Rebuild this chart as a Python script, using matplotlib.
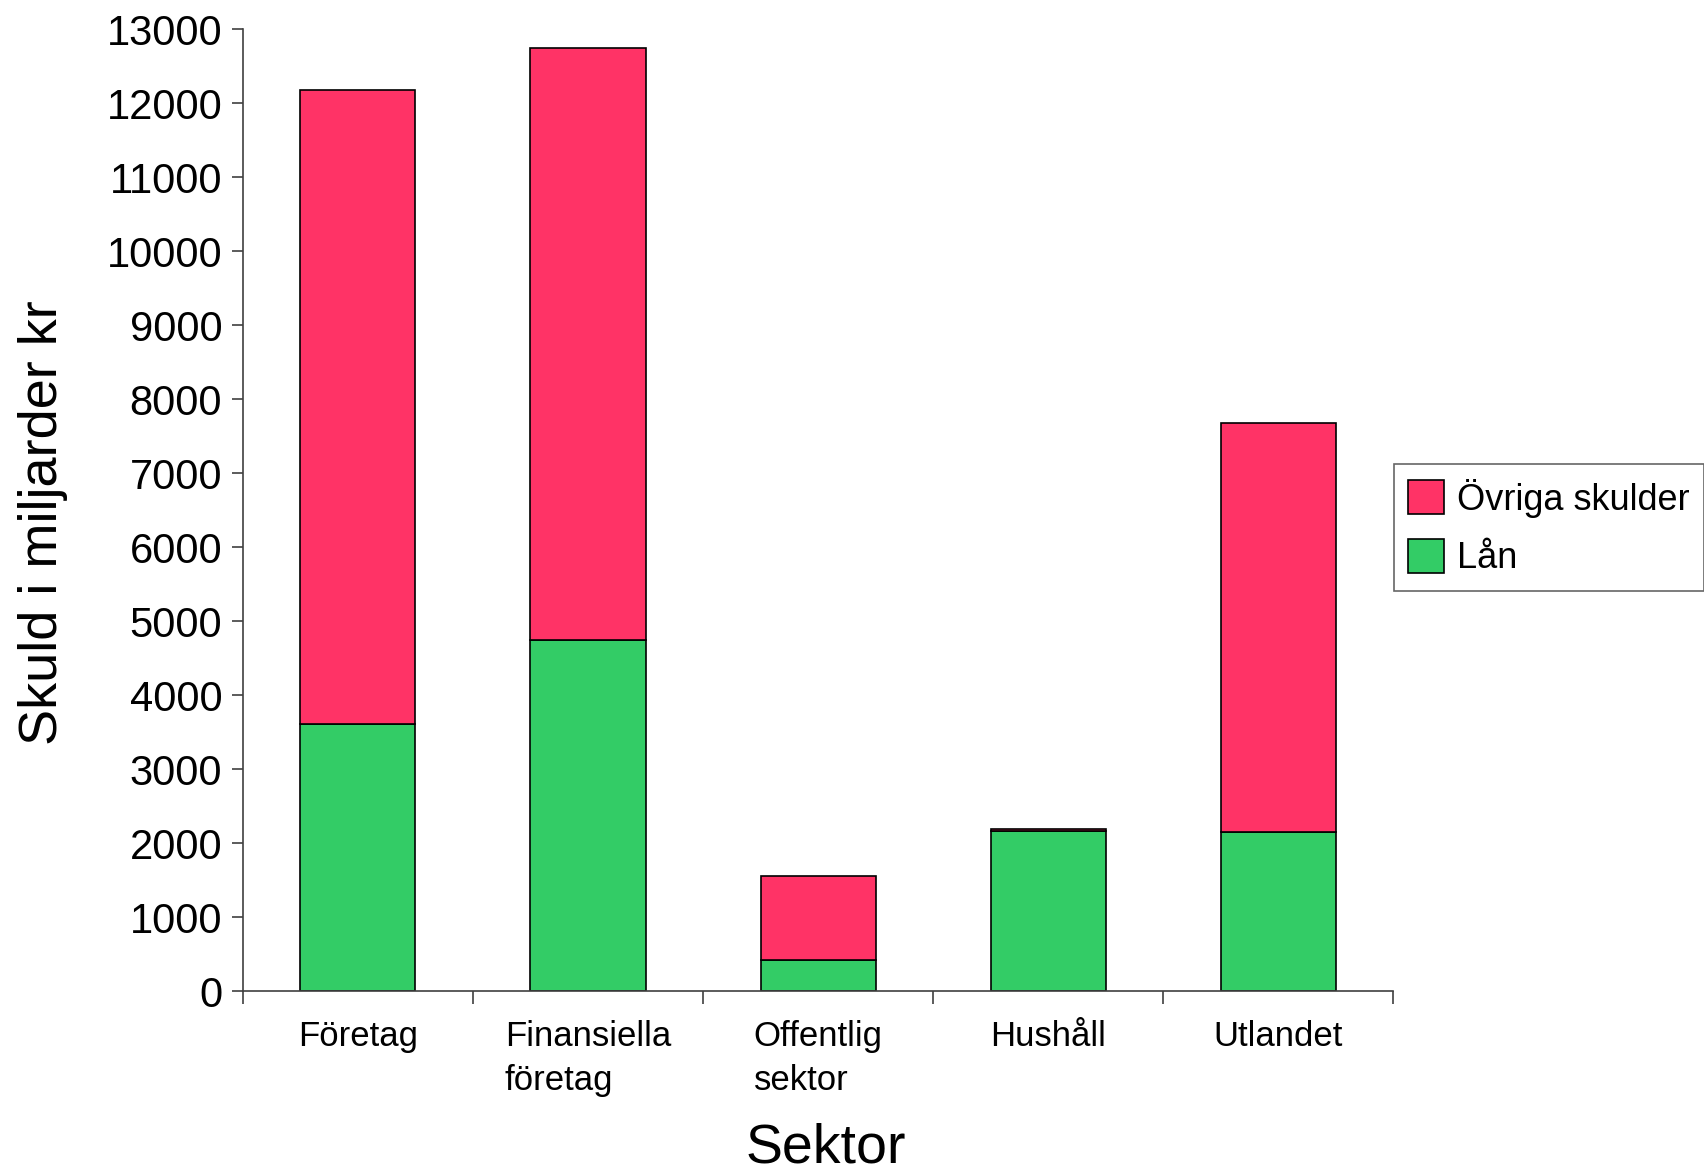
import matplotlib.pyplot as plt
from matplotlib.ticker import FixedLocator

plt.rcParams["font.family"] = ["Liberation Sans", "DejaVu Sans"]

sectors = ["Företag", "Finansiella\nföretag", "Offentlig\nsektor", "Hushåll", "Utlandet"]
lan = [3610, 4745, 425, 2160, 2145]
ovriga = [8565, 8005, 1130, 30, 5535]
yticks = list(range(0, 13001, 1000))

red = "#ff3366"
green = "#33cc66"

fig = plt.figure(figsize=(17.04, 11.72), dpi=100)
ax = fig.add_axes([0.1426, 0.1544, 0.8175 - 0.1426, 0.975 - 0.1544])

x = range(len(sectors))
ax.bar(x, lan, width=0.5, color=green, edgecolor="black", linewidth=1.2, label="Lån")
ax.bar(x, ovriga, width=0.5, bottom=lan, color=red, edgecolor="black",
       linewidth=1.2, label="Övriga skulder")

ax.set_xlim(-0.5, len(sectors) - 0.5)
ax.set_ylim(0, 13000)
ax.set_yticks(yticks)
ax.set_xticks(list(x))
ax.set_xticklabels(sectors, multialignment="left", linespacing=1.4)
ax.xaxis.set_minor_locator(FixedLocator([i - 0.5 for i in range(len(sectors) + 1)]))
ax.tick_params(axis="x", which="major", length=0, pad=21, labelsize=25)
ax.tick_params(axis="x", which="minor", length=9, width=1.2, color="#404040")
ax.tick_params(axis="y", length=8, width=1.2, color="#404040", pad=7, labelsize=30)

for s in ["top", "right"]:
    ax.spines[s].set_visible(False)
for s in ["left", "bottom"]:
    ax.spines[s].set_color("#404040")
    ax.spines[s].set_linewidth(1.2)

ax.set_xlabel("Sektor", fontsize=40, labelpad=19)
ax.xaxis.label.set_x(0.507)
ax.set_ylabel("Skuld i miljarder kr", fontsize=39, labelpad=28)
ax.yaxis.label.set_y(0.487)

h, l = ax.get_legend_handles_labels()
leg = fig.legend(h[::-1], l[::-1], loc="upper left", bbox_to_anchor=(0.818, 0.604),
                 fontsize=26, frameon=True, fancybox=False, edgecolor="#404040",
                 handlelength=1.0, handleheight=1.05, handletextpad=0.35,
                 borderaxespad=0, borderpad=0.4, labelspacing=0.6)
leg.get_frame().set_linewidth(1.2)

fig.savefig("out.png", dpi=100)
